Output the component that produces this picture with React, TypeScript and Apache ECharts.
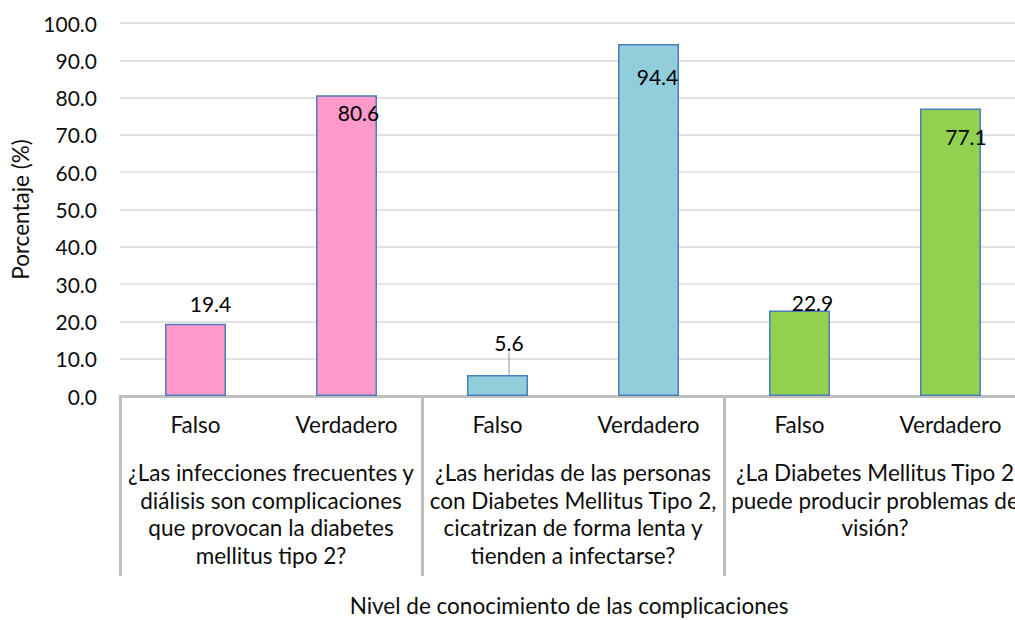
import React, { useEffect, useRef } from "react";
import * as echarts from "echarts";

const answerLabels = ["Falso", "Verdadero", "Falso", "Verdadero", "Falso", "Verdadero"];
const questionLabels = [
  "¿Las infecciones frecuentes y\ndiálisis son complicaciones\nque provocan la diabetes\nmellitus tipo 2?",
  "¿Las heridas de las personas\ncon Diabetes Mellitus Tipo 2,\ncicatrizan de forma lenta y\ntienden a infectarse?",
  "¿La Diabetes Mellitus Tipo 2\npuede producir problemas de\nvisión?",
];
const percentValues = [19.4, 80.6, 5.6, 94.4, 22.9, 77.1];
const yTicks = { min: 0, max: 100, interval: 10 };
const yAxisTitle = "Porcentaje (%)";
const xAxisTitle = "Nivel de conocimiento de las complicaciones";

// styling (not data)
const groupColors = ["#ff99cc", "#ff99cc", "#92cddc", "#92cddc", "#92d050", "#92d050"];
const labelPlacement: Array<[number, number]> = [
  [15, -20],
  [12, 17],
  [11.5, -33],
  [9, 33],
  [13, -8],
  [15.5, 28],
];
const FONT = "Lato";
const FS_NUM = 21;
const FS_TXT = 22.5;
const TEXT = "#0d0d0d";

export default function App() {
  const ref = useRef<HTMLDivElement>(null);
  useEffect(() => {
    if (!ref.current) return;
    const chart = echarts.init(ref.current, undefined, { renderer: "svg" });
    const option: any = {
      animation: false,
      textStyle: { fontFamily: FONT },
      grid: {
        left: 120,
        top: 23,
        width: 906,
        height: 373,
        containLabel: false,
        outerBoundsMode: "none",
      },
      xAxis: [
        {
          type: "category",
          data: answerLabels,
          position: "bottom",
          axisLine: { show: true, lineStyle: { color: "#bfbfbf", width: 3 } },
          axisTick: {
            show: true,
            interval: (i: number) => i % 2 === 0,
            length: 180,
            lineStyle: { color: "#bfbfbf", width: 3 },
          },
          axisLabel: { interval: 0, margin: 17, fontSize: FS_TXT, color: TEXT, fontFamily: FONT },
          splitLine: { show: false },
        },
        {
          type: "category",
          data: questionLabels,
          position: "bottom",
          axisLine: { show: false },
          axisTick: { show: false },
          axisLabel: {
            interval: 0,
            margin: 63,
            fontSize: FS_TXT,
            lineHeight: 27.5,
            color: TEXT,
            fontFamily: FONT,
            align: "center",
          },
          splitLine: { show: false },
        },
      ],
      yAxis: {
        type: "value",
        min: yTicks.min,
        max: yTicks.max,
        interval: yTicks.interval,
        name: yAxisTitle,
        nameLocation: "middle",
        nameGap: 88,
        nameTextStyle: { fontSize: FS_TXT, color: TEXT, fontFamily: FONT },
        axisLine: { show: false },
        axisTick: { show: false },
        axisLabel: {
          margin: 23,
          fontSize: FS_NUM,
          color: TEXT,
          fontFamily: FONT,
          formatter: (v: number) => v.toFixed(1),
        },
        splitLine: { show: true, lineStyle: { color: "#d9d9d9", width: 1.5 } },
      },
      graphic: [
        {
          type: "text",
          x: 569,
          y: 605,
          style: {
            text: xAxisTitle,
            fontSize: FS_TXT,
            fontFamily: FONT,
            fill: TEXT,
            align: "center",
            verticalAlign: "middle",
          },
        },
      ],
      series: [
        {
          type: "bar",
          xAxisIndex: 0,
          barWidth: 61,
          data: percentValues.map((v, i) => ({
            value: v,
            itemStyle: { color: groupColors[i], borderColor: "#4a7ebb", borderWidth: 1.5 },
            label: {
              show: true,
              position: ["50%", labelPlacement[i][1]],
              offset: [labelPlacement[i][0], 0],
              align: "center",
              verticalAlign: "middle",
              fontSize: FS_NUM,
              color: "#000",
              fontFamily: FONT,
              formatter: (p: any) => Number(p.value).toFixed(1),
            },
            labelLine:
              i === 2
                ? { show: true, length2: 4, lineStyle: { color: "#a6a6a6", width: 1.2 } }
                : { show: false },
          })),
        },
      ],
    };
    chart.setOption(option);
    return () => chart.dispose();
  }, []);
  return (
    <div
      ref={ref}
      style={{ position: "absolute", left: 0, top: 0, width: 1015, height: 620 }}
    />
  );
}
